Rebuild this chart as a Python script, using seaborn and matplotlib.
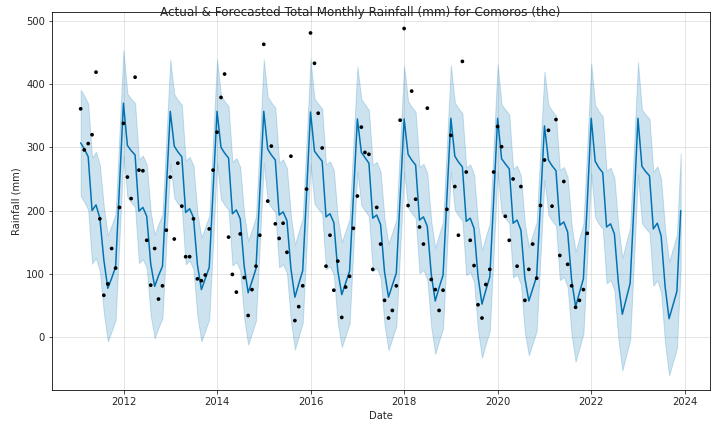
import pandas as pd
import numpy as np
import matplotlib
matplotlib.use('Agg')
import matplotlib.pyplot as plt
import seaborn as sns

# --- Datos ---
years = list(range(2011, 2024))

yhat_by_year = {
    2011: [307, 298, 285, 200, 209, 188, 122, 77, 93, 111, 238, 370],
    2012: [303, 295, 288, 199, 205, 191, 116, 80, 97, 112, 232, 357],
    2013: [302, 293, 285, 197, 203, 189, 114, 75, 92, 110, 230, 357],
    2014: [300, 291, 283, 195, 201, 187, 112, 70, 88, 108, 228, 357],
    2015: [297, 288, 280, 193, 198, 184, 108, 63, 84, 105, 226, 356],
    2016: [294, 286, 278, 190, 195, 181, 105, 67, 85, 104, 224, 345],
    2017: [292, 284, 275, 188, 193, 178, 103, 63, 82, 101, 222, 345],
    2018: [289, 280, 272, 185, 190, 175, 99, 57, 78, 98, 219, 346],
    2019: [286, 277, 269, 183, 188, 172, 96, 52, 74, 95, 216, 346],
    2020: [282, 274, 266, 180, 185, 169, 93, 57, 76, 96, 214, 334],
    2021: [280, 271, 263, 177, 182, 166, 90, 48, 70, 92, 212, 346],
    2022: [278, 268, 260, 174, 179, 163, 86, 36, 60, 85, 209, 346],
    2023: [270, 262, 255, 171, 180, 160, 80, 29, 50, 72, 200],
}

# semi-ancho del intervalo de incertidumbre por año
band_width = [84, 82, 82, 82, 83, 83, 84, 84, 85, 86, 87, 89, 90]

actual_by_year = {
    2011: [361, 296, 306, 320, 419, 187, 66, 84, 140, 109, 205, 338],
    2012: [253, 219, 411, 264, 263, 153, 82, 140, 60, 81, 169, 253],
    2013: [155, 275, 207, 127, 127, 187, 92, 89, 98, 171, 264, 324],
    2014: [379, 416, 158, 99, 71, 163, 94, 34, 75, 112, 161, 463],
    2015: [215, 302, 179, 156, 180, 134, 286, 26, 48, 81, 234, 481],
    2016: [433, 354, 299, 112, 161, 74, 120, 31, 79, 96, 172, 223],
    2017: [332, 292, 289, 107, 205, 147, 58, 30, 42, 81, 343, 488],
    2018: [208, 389, 218, 174, 147, 362, 91, 75, 42, 74, 202, 319],
    2019: [238, 161, 436, 261, 153, 113, 51, 30, 83, 107, 261, 333],
    2020: [301, 191, 153, 250, 112, 238, 58, 107, 147, 93, 208, 280],
    2021: [327, 207, 344, 129, 246, 115, 81, 47, 58, 75, 164],
}

# --- Construcción de tablas ---
rows = []
for i, y in enumerate(years):
    for m, v in enumerate(yhat_by_year[y], start=1):
        rows.append({'ds': pd.Timestamp(y, m, 1) + pd.offsets.MonthEnd(0),
                     'yhat': v, 'w': band_width[i]})
fcst = pd.DataFrame(rows)
fcst['lower'] = fcst['yhat'] - fcst['w']
fcst['upper'] = fcst['yhat'] + fcst['w']

rows = []
for y, vals in actual_by_year.items():
    for m, v in enumerate(vals, start=1):
        rows.append({'ds': pd.Timestamp(y, m, 1) + pd.offsets.MonthEnd(0), 'y': v})
hist = pd.DataFrame(rows)

# --- Gráfico ---
sns.set_style('ticks')
fig, ax = plt.subplots(figsize=(10, 6), dpi=72)
sns.scatterplot(data=hist, x='ds', y='y', color='black', s=14, edgecolor='none', ax=ax, zorder=3)
sns.lineplot(data=fcst, x='ds', y='yhat', color='#0072B2', linewidth=1.5, ax=ax)
ax.fill_between(fcst['ds'], fcst['lower'], fcst['upper'], color='#0072B2', alpha=0.2)
ax.grid(True, which='major', color='gray', linestyle='-', linewidth=1, alpha=0.2)
for s in ax.spines.values():
    s.set_color('black')
    s.set_visible(True)
ax.set_xlabel('Date')
ax.set_ylabel('Rainfall (mm)')
ax.set_ylim(-84, 514)
ax.set_xlim(pd.Timestamp('2010-06-20'), pd.Timestamp('2024-07-15'))
fig.suptitle('Actual & Forecasted Total Monthly Rainfall (mm) for Comoros (the)', fontsize=12, y=0.985)
fig.subplots_adjust(left=0.072, right=0.986, top=0.972, bottom=0.097)
fig.savefig('out.png')
